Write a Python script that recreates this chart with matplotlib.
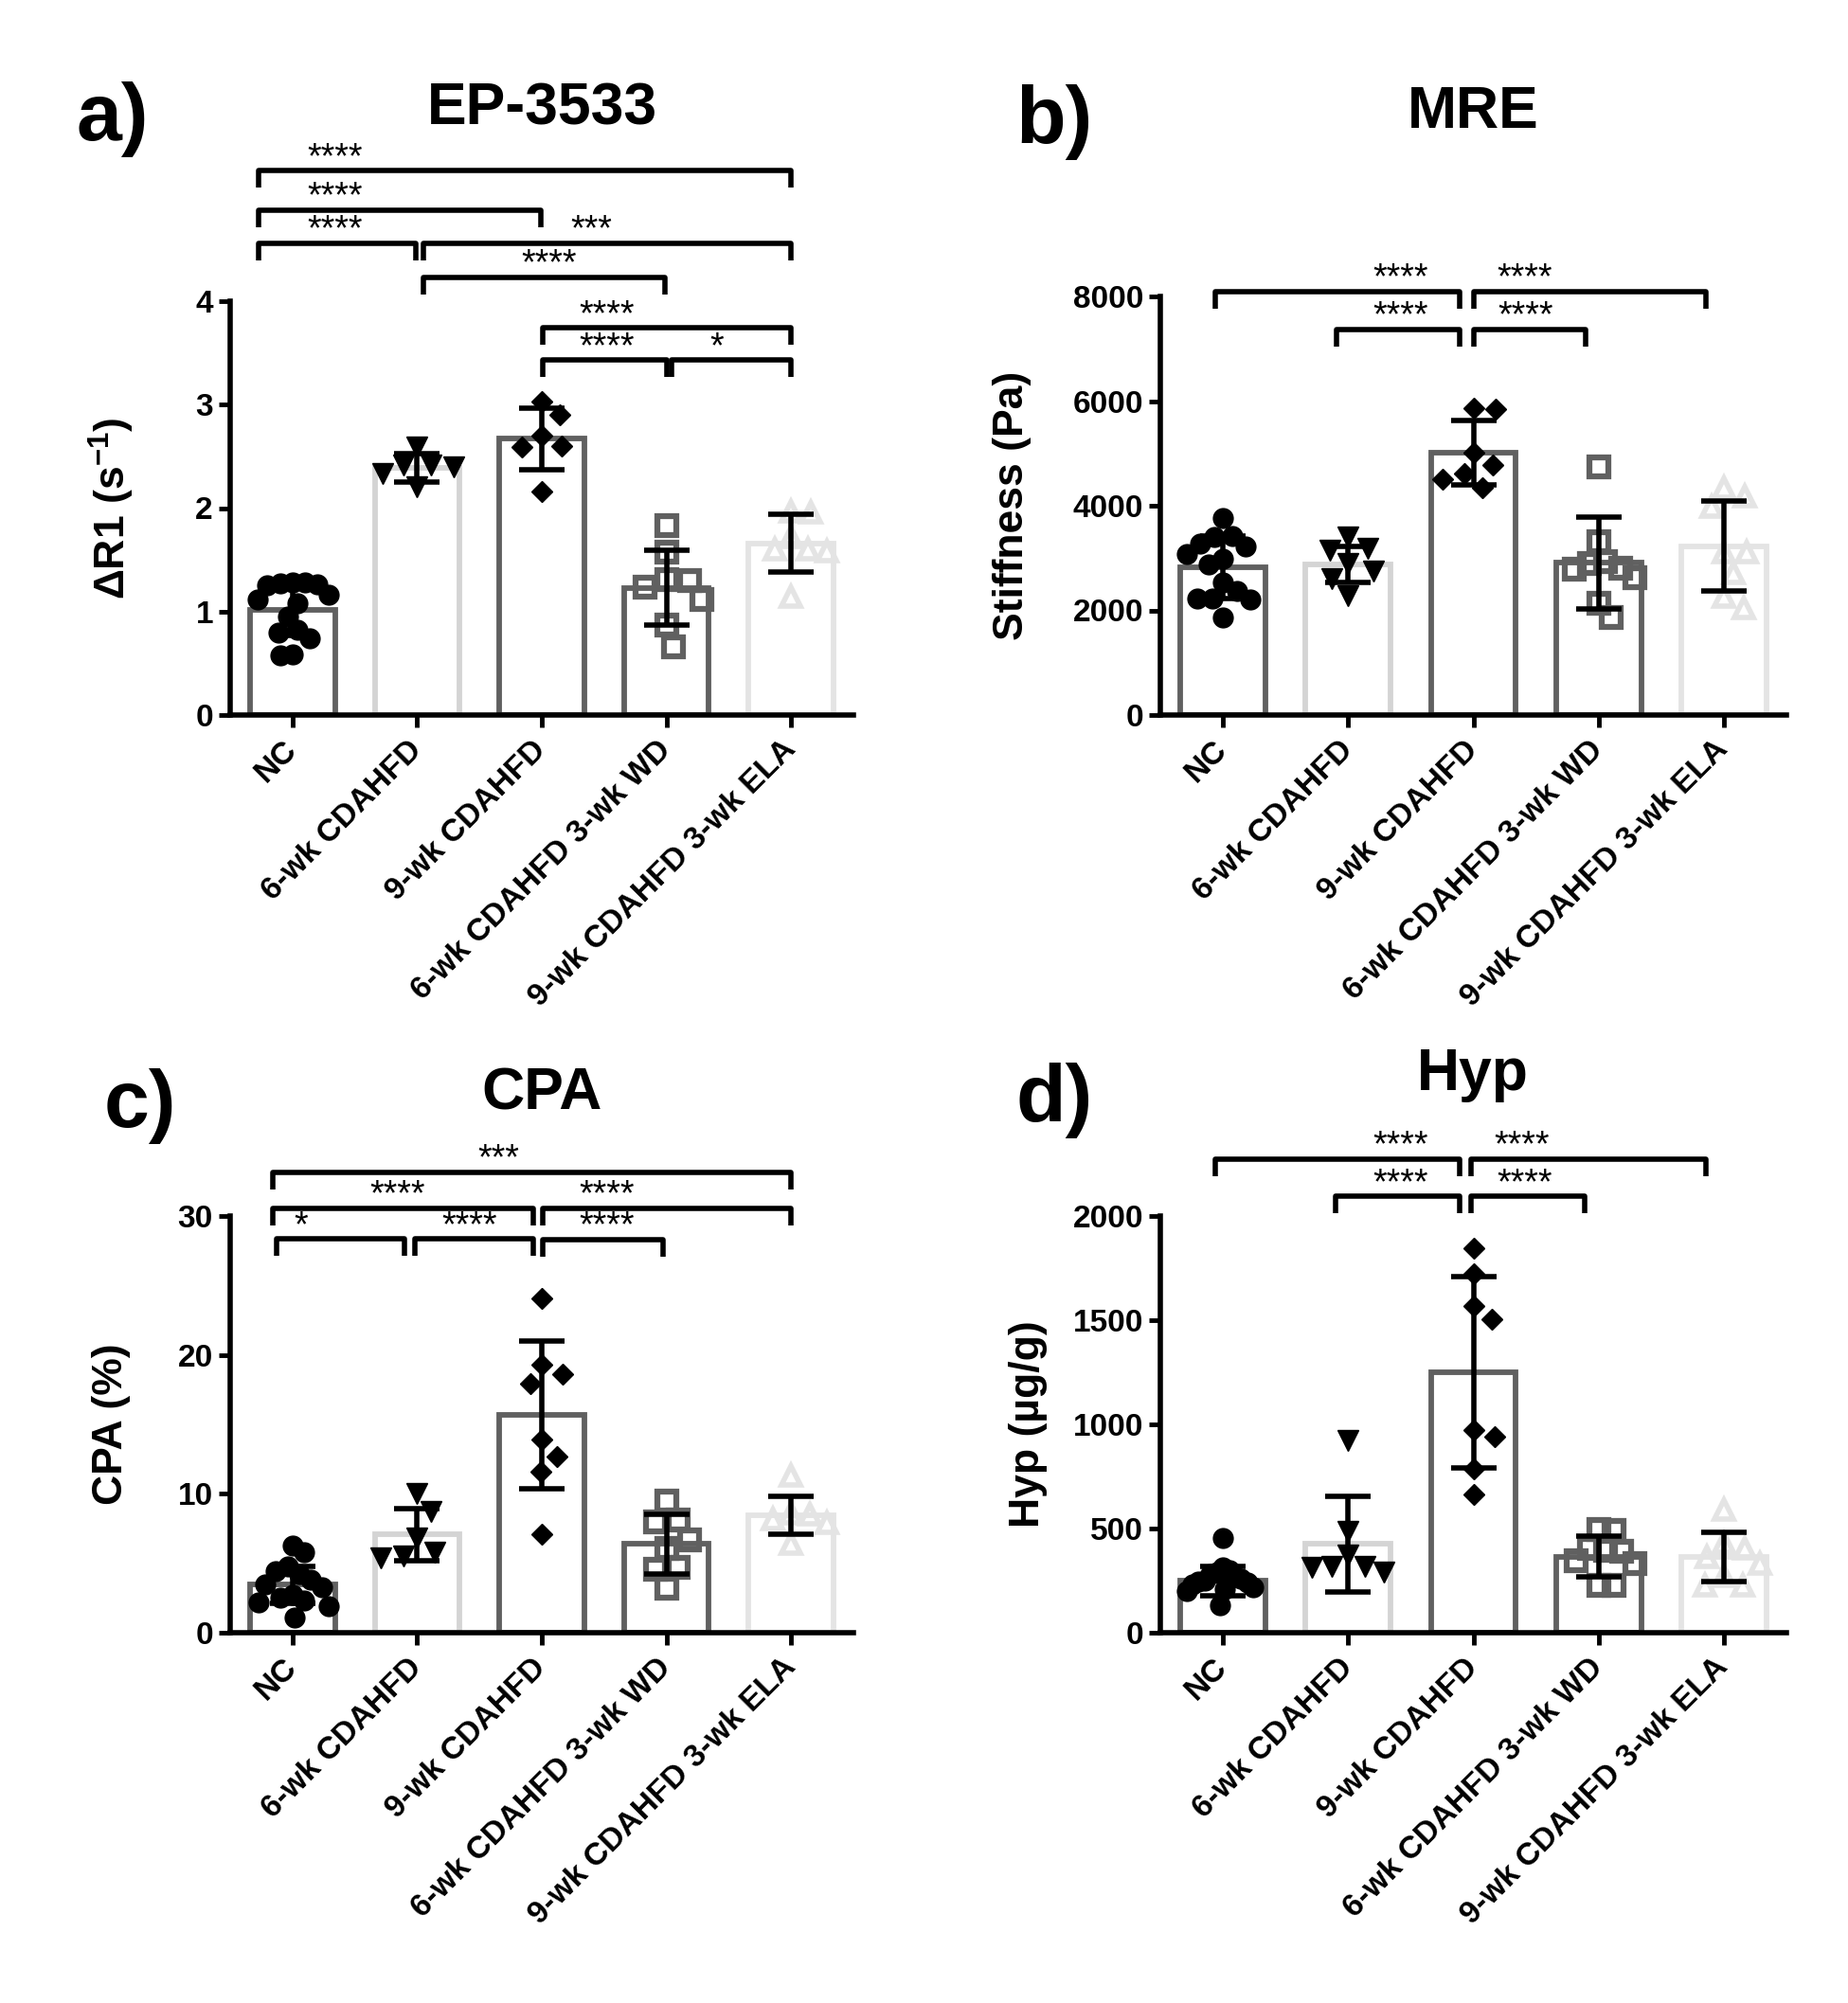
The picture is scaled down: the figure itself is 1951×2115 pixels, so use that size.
import numpy as np
import matplotlib
matplotlib.use("Agg")
import matplotlib.pyplot as plt

plt.rcParams['font.family'] = ['Liberation Sans', 'DejaVu Sans']
plt.rcParams['font.weight'] = 'bold'
plt.rcParams['mathtext.fontset'] = 'custom'
plt.rcParams['mathtext.rm'] = 'Liberation Sans:bold'
plt.rcParams['mathtext.bf'] = 'Liberation Sans:bold'
plt.rcParams['mathtext.it'] = 'Liberation Sans:bold'

# ---------------- data ----------------
groups = ['NC', '6-wk CDAHFD', '9-wk CDAHFD', '6-wk CDAHFD 3-wk WD', '9-wk CDAHFD 3-wk ELA']

a_means = [1.02, 2.39, 2.67, 1.23, 1.66]
a_sds = [0.25, 0.135, 0.30, 0.36, 0.28]
a_nc = [1.28, 1.26, 1.25, 1.27, 1.28, 1.16, 1.12, 1.08, 0.95, 0.82, 0.80, 0.74, 0.58, 0.59]
a_6wk = [2.59, 2.42, 2.40, 2.42, 2.33, 2.21]
a_9wk = [3.03, 2.90, 2.70, 2.60, 2.59, 2.16]
a_wd = [1.83, 1.57, 1.31, 1.30, 1.24, 1.12, 0.87, 0.66]
a_ela = [1.97, 1.96, 1.72, 1.60, 1.58, 1.60, 1.14]

b_means = [2818, 2879, 5018, 2909, 3230]
b_sds = [600, 343, 612, 879, 864]
b_nc = [3758, 3412, 3400, 3230, 3270, 3080, 2990, 2870, 2530, 2380, 2230, 2200, 2230, 1870]
b_6wk = [3400, 3180, 3150, 2900, 2760, 2600, 2280]
b_9wk = [5850, 5860, 5020, 4780, 4620, 4500, 4350]
b_wd = [4745, 3320, 2930, 2900, 2780, 2800, 2620, 2140, 1870]
b_ela = [4350, 4180, 3980, 3110, 3110, 2720, 2260, 2050]

c_means = [3.46, 7.06, 15.68, 6.38, 8.45]
c_sds = [1.34, 1.85, 5.33, 2.13, 1.34]
c_nc = [6.3, 5.8, 4.8, 4.4, 4.2, 3.8, 3.5, 3.3, 2.7, 2.5, 2.3, 2.2, 1.9, 1.1]
c_6wk = [10.0, 8.7, 6.8, 5.8, 5.5, 5.4]
c_9wk = [24.1, 19.3, 18.6, 17.9, 13.9, 12.7, 11.6, 7.1]
c_wd = [9.5, 8.1, 8.0, 6.7, 6.1, 4.7, 4.6, 3.2]
c_ela = [11.3, 8.6, 8.5, 8.2, 7.9, 6.4]

d_means = [248, 426, 1252, 364, 364]
d_sds = [70, 230, 459, 98, 117]
d_nc = [455, 315, 300, 290, 280, 270, 260, 250, 245, 240, 230, 220, 210, 200, 130]
d_6wk = [925, 485, 372, 316, 290, 318, 312]
d_9wk = [1846, 1725, 1570, 1506, 972, 940, 785, 664]
d_wd = [494, 491, 405, 397, 389, 345, 332, 227, 227]
d_ela = [590, 430, 405, 365, 330, 275, 227, 227]

# significance comparisons: (x_start, x_end, y_level, label, label_x)
a_sig = [(-0.27, 4.00, 5.26, '****', 0.34),
         (-0.27, 1.99, 4.88, '****', 0.34),
         (-0.27, 0.99, 4.56, '****', 0.34),
         (1.05, 4.00, 4.56, '***', 2.40),
         (1.05, 2.99, 4.23, '****', 2.06),
         (2.01, 4.00, 3.74, '****', 2.52),
         (2.01, 3.00, 3.43, '****', 2.52),
         (3.04, 4.00, 3.43, '*', 3.40)]
b_sig = [(-0.06, 1.89, 8086, '****', 1.42),
         (2.00, 3.86, 8086, '****', 2.41),
         (0.91, 1.89, 7364, '****', 1.42),
         (2.00, 2.90, 7364, '****', 2.42)]
c_sig = [(-0.16, 4.00, 33.16, '***', 1.65),
         (-0.16, 1.93, 30.53, '****', 0.84),
         (2.005, 4.00, 30.53, '****', 2.52),
         (-0.13, 0.90, 28.34, '*', 0.07),
         (0.98, 1.93, 28.34, '****', 1.42),
         (2.005, 2.97, 28.30, '****', 2.52)]
d_sig = [(-0.06, 1.89, 2275, '****', 1.42),
         (1.98, 3.86, 2275, '****', 2.39),
         (0.90, 1.89, 2094, '****', 1.42),
         (1.98, 2.89, 2094, '****', 2.41)]

# ---------------- styles ----------------
DARK = '#606060'
LIGHT = '#d4d4d4'
VLIGHT = '#e4e4e4'
bar_edges = [DARK, LIGHT, DARK, DARK, VLIGHT]
markers = [dict(marker='o', ms=15, mfc='black', mec='black', mew=1),
           dict(marker='v', ms=16, mfc='black', mec='black', mew=1),
           dict(marker='D', ms=11, mfc='black', mec='black', mew=1),
           dict(marker='s', ms=14, mfc='none', mec=DARK, mew=4.5),
           dict(marker='^', ms=15, mfc='none', mec=VLIGHT, mew=4)]

W, H = 1951, 2115
fig = plt.figure(figsize=(W / 100, H / 100), dpi=100)


def px_rect(l, r, t, b):
    return [l / W, 1 - b / H, (r - l) / W, (b - t) / H]


def swarm_offsets(ax, xc, vals, diam, max_off=0.29):
    vals = np.asarray(vals, float)
    ypx = ax.transData.transform(np.column_stack([np.full(len(vals), xc), vals]))[:, 1]
    order = np.argsort(-vals, kind='stable')
    placed = []
    offs = np.zeros(len(vals))
    for i in order:
        y = ypx[i]
        cands = [0.0]
        for (px, py) in placed:
            dy = abs(y - py)
            if dy < diam:
                dx = np.sqrt(diam ** 2 - dy ** 2)
                cands += [px + dx, px - dx]
        cands = sorted(cands, key=lambda c: (abs(c), -c))
        for c in cands:
            ok = all((c - px) ** 2 + (y - py) ** 2 >= diam ** 2 - 1e-6 for (px, py) in placed)
            if ok:
                break
        placed.append((c, y))
        offs[i] = c
    unit = ax.transData.transform((1, 0))[0] - ax.transData.transform((0, 0))[0]
    offs = offs / unit
    m = np.max(np.abs(offs))
    if m > max_off:
        offs = offs * max_off / m
    return offs


def panel(rect, means, sds, pts, ylim, yticks, sig, ylabel, ylab_x):
    ax = fig.add_axes(rect)
    ax.set_xlim(-0.5, 4.5)
    ax.set_ylim(*ylim)
    x = np.arange(len(groups))
    ax.bar(x, means, width=0.68, facecolor='white', edgecolor=bar_edges,
           linewidth=4.2, zorder=1)
    for i, vals in enumerate(pts):
        offs = swarm_offsets(ax, i, vals, 24)
        ax.plot(i + offs, vals, ls='none', zorder=2, clip_on=False, **markers[i])
    ax.errorbar(x, means, yerr=sds, fmt='none', ecolor='black', elinewidth=4,
                capsize=17, capthick=4, zorder=4)
    for s in ['top', 'right']:
        ax.spines[s].set_visible(False)
    for s in ['left', 'bottom']:
        ax.spines[s].set_linewidth(4)
    ax.set_yticks(yticks)
    ax.set_xticks(x)
    ax.set_xticklabels(groups, rotation=45, ha='right', va='center',
                       rotation_mode='anchor', fontsize=24, fontweight='bold')
    ax.tick_params(axis='both', length=9, width=3.5, labelsize=24)
    ax.tick_params(axis='x', pad=14)
    ax.tick_params(axis='y', pad=4)
    for lab in ax.get_yticklabels():
        lab.set_fontweight('bold')
    ax.set_ylabel(ylabel, fontsize=32, fontweight='bold')
    ax.yaxis.set_label_coords(ylab_x, 0.5)
    # brackets
    ax_h_px = rect[3] * H
    tip = 18 * (ylim[1] - ylim[0]) / ax_h_px
    for (x1, x2, yl, lab, xt) in sig:
        ax.plot([x1, x1, x2, x2], [yl - tip, yl, yl, yl - tip], color='black',
                lw=4, clip_on=False, solid_joinstyle='round', solid_capstyle='butt',
                zorder=6)
        ax.annotate(lab, (xt, yl), xytext=(0, 2.5), textcoords='offset points',
                    ha='center', va='baseline', fontsize=27, fontweight='normal',
                    annotation_clip=False, zorder=6)
    return ax


panel(px_rect(243, 901, 318, 755), a_means, a_sds, [a_nc, a_6wk, a_9wk, a_wd, a_ela],
      (0, 4), [0, 1, 2, 3, 4], a_sig, r'ΔR1 (s$^{-1}$)', -0.150)
panel(px_rect(1225, 1886, 313, 755), b_means, b_sds, [b_nc, b_6wk, b_9wk, b_wd, b_ela],
      (0, 8000), [0, 2000, 4000, 6000, 8000], b_sig, 'Stiffness (Pa)', -0.205)
panel(px_rect(243, 901, 1284, 1724), c_means, c_sds, [c_nc, c_6wk, c_9wk, c_wd, c_ela],
      (0, 30), [0, 10, 20, 30], c_sig, 'CPA (%)', -0.160)
panel(px_rect(1225, 1886, 1284, 1724), d_means, d_sds, [d_nc, d_6wk, d_9wk, d_wd, d_ela],
      (0, 2000), [0, 500, 1000, 1500, 2000], d_sig, 'Hyp (µg/g)', -0.180)

# titles
for t, xp, yb in [('EP-3533', 572, 131), ('MRE', 1555, 135), ('CPA', 572, 1171), ('Hyp', 1555, 1151)]:
    fig.text(xp / W, 1 - yb / H, t, ha='center', va='baseline', fontsize=45, fontweight='bold')
# panel letters
for t, xp, yb in [('a)', 119, 148), ('b)', 1113, 151), ('c)', 148, 1190), ('d)', 1113, 1184)]:
    fig.text(xp / W, 1 - yb / H, t, ha='center', va='baseline', fontsize=62, fontweight='bold')

fig.savefig('out.png', dpi=100, facecolor='white')
